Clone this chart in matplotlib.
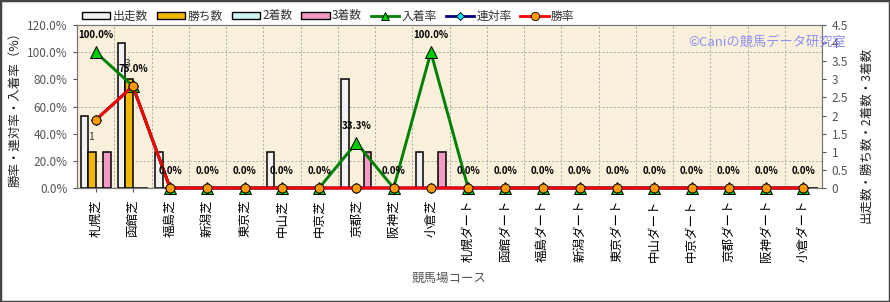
import numpy as np
import matplotlib
matplotlib.use("Agg")
import matplotlib.pyplot as plt
from matplotlib.patches import Patch, Rectangle
from matplotlib.lines import Line2D

plt.rcParams['font.family'] = ['Noto Sans CJK JP', 'DejaVu Sans']

courses = ['札幌芝', '函館芝', '福島芝', '新潟芝', '東京芝', '中山芝', '中京芝', '京都芝', '阪神芝', '小倉芝',
           '札幌ダート', '函館ダート', '福島ダート', '新潟ダート', '東京ダート', '中山ダート', '中京ダート',
           '京都ダート', '阪神ダート', '小倉ダート']
starts = [2, 4, 1, 0, 0, 1, 0, 3, 0, 1, 0, 0, 0, 0, 0, 0, 0, 0, 0, 0]
wins = [1, 3, 0, 0, 0, 0, 0, 0, 0, 0, 0, 0, 0, 0, 0, 0, 0, 0, 0, 0]
seconds = [0, 0, 0, 0, 0, 0, 0, 0, 0, 0, 0, 0, 0, 0, 0, 0, 0, 0, 0, 0]
thirds = [1, 0, 0, 0, 0, 0, 0, 1, 0, 1, 0, 0, 0, 0, 0, 0, 0, 0, 0, 0]
place_rate = [100.0, 75.0, 0, 0, 0, 0, 0, 33.3, 0, 100.0, 0, 0, 0, 0, 0, 0, 0, 0, 0, 0]
quinella_rate = [50.0, 75.0, 0, 0, 0, 0, 0, 0, 0, 0, 0, 0, 0, 0, 0, 0, 0, 0, 0, 0]
win_rate = [50.0, 75.0, 0, 0, 0, 0, 0, 0, 0, 0, 0, 0, 0, 0, 0, 0, 0, 0, 0, 0]
left_ticks = [0, 20, 40, 60, 80, 100, 120]
right_ticks = [0, 0.5, 1, 1.5, 2, 2.5, 3, 3.5, 4, 4.5]

W, H = 890, 302
fig = plt.figure(figsize=(W / 100, H / 100), dpi=100)
fig.patch.set_facecolor('white')

pos = [77 / W, 1 - 188 / H, (822 - 77) / W, (188 - 25) / H]
axb = fig.add_axes(pos)          # bars (right scale)
axl = axb.twinx()                # lines (left scale)
axb.set_zorder(1)
axl.set_zorder(2)
axl.patch.set_visible(False)
axb.set_facecolor('#F9F0DC')

x = np.arange(len(courses))
bw = 0.2
bar_specs = [(starts, '#F2F2F2', '出走数'), (wins, '#F2B705', '勝ち数'),
             (seconds, '#CFF3F3', '2着数'), (thirds, '#F29BC6', '3着数')]
for k, (vals, col, lab) in enumerate(bar_specs):
    axb.bar(x + (k - 1.5) * bw, vals, width=bw, color=col, edgecolor='black', linewidth=1.1, zorder=3)

for i, v in enumerate(wins):
    if v > 0:
        axb.annotate(str(v), (x[i] - 0.5 * bw, v), xytext=(-1, 11), textcoords='offset points',
                     ha='center', va='center', fontsize=7.5, color='#333333', zorder=4)

axb.set_ylim(0, 4.5)
axb.set_xlim(-0.5, len(courses) - 0.5)
axb.yaxis.tick_right()
axb.set_yticks(right_ticks)
axb.set_yticklabels([f"{t:g}" for t in right_ticks])
axb.tick_params(axis='y', labelsize=8.5, labelcolor='#555555', length=3, pad=4, color='#555555')
axb.set_yticks(np.arange(0, 4.51, 0.75), minor=True)
axb.tick_params(axis='y', which='minor', length=0)
axb.set_xticks(np.arange(-0.5, len(courses), 1.0), minor=True)
axb.tick_params(axis='x', which='minor', length=0)
axb.grid(which='minor', color='#A8A8A8', linestyle=(0, (2, 2)), linewidth=0.7, zorder=0)
axb.set_axisbelow(True)

axl.plot(x, place_rate, color='#008000', linewidth=2.1, marker='^', markersize=8,
         markerfacecolor='#00CC00', markeredgecolor='black', markeredgewidth=0.7, clip_on=False, zorder=3)
axl.plot(x, quinella_rate, color='#000080', linewidth=2.1, marker='D', markersize=5,
         markerfacecolor='#00E5FF', markeredgecolor='black', markeredgewidth=0.7, clip_on=False, zorder=4)
axl.plot(x, win_rate, color='#FF0000', linewidth=2.1, marker='o', markersize=6.5,
         markerfacecolor='#FF9900', markeredgecolor='black', markeredgewidth=0.7, clip_on=False, zorder=5)
for i, v in enumerate(place_rate):
    axl.annotate(f"{v:.1f}%", (x[i], v), xytext=(0, 12), textcoords='offset points',
                 ha='center', va='center', fontsize=7, fontweight='bold', color='black', zorder=6,
                 annotation_clip=False)

axl.set_ylim(0, 120)
axl.yaxis.tick_left()
axl.set_yticks(left_ticks)
axl.set_yticklabels([f"{t:.1f}%" for t in left_ticks])
axl.tick_params(axis='y', labelsize=8.5, labelcolor='#555555', length=3, pad=4, color='#555555')

axb.set_xticks(x)
axb.set_xticklabels(courses, rotation=90, fontsize=9, color='black')
axb.tick_params(axis='x', length=3, pad=5, color='#555555')

for ax in (axb, axl):
    for s in ax.spines.values():
        s.set_color('#777777')
        s.set_linewidth(0.8)

fig.text(15 / W, 1 - 106 / H, '勝率・連対率・入着率（%）', rotation=90, ha='center', va='center',
         fontsize=9, color='#222222')
fig.text(866 / W, 1 - 135 / H, '出走数・勝ち数・2着数・3着数', rotation=90, ha='center', va='center',
         fontsize=9, color='#222222')
fig.text(449 / W, 1 - 278 / H, '競馬場コース', ha='center', va='center', fontsize=9, color='#555555')
fig.text(846 / W, 1 - 42 / H, '©Caniの競馬データ研究室', ha='right', va='center', fontsize=9.5,
         color='#8F8FF0', zorder=10)

handles = [Patch(facecolor=c, edgecolor='black', linewidth=1.0, label=l) for _, c, l in bar_specs]
handles += [
    Line2D([], [], color='#008000', lw=2, marker='^', markersize=6, markerfacecolor='#00CC00',
           markeredgecolor='black', markeredgewidth=0.6, label='入着率'),
    Line2D([], [], color='#000080', lw=2, marker='D', markersize=4, markerfacecolor='#00E5FF',
           markeredgecolor='black', markeredgewidth=0.6, label='連対率'),
    Line2D([], [], color='#FF0000', lw=2, marker='o', markersize=6, markerfacecolor='#FF9900',
           markeredgecolor='black', markeredgewidth=0.6, label='勝率'),
]
leg = fig.legend(handles=handles, loc='center left', bbox_to_anchor=(82 / W, 1 - 16 / H), ncol=7,
                 frameon=False, fontsize=8.5, handlelength=2.4, handleheight=0.5, handletextpad=0.2,
                 columnspacing=0.75, borderaxespad=0, borderpad=0)
for t in leg.get_texts():
    t.set_color('#333333')

fig.patches.append(Rectangle((0, 0), 1, 1, transform=fig.transFigure, fill=False,
                             edgecolor='#444444', linewidth=2.5))

fig.savefig('out.png', dpi=100)
